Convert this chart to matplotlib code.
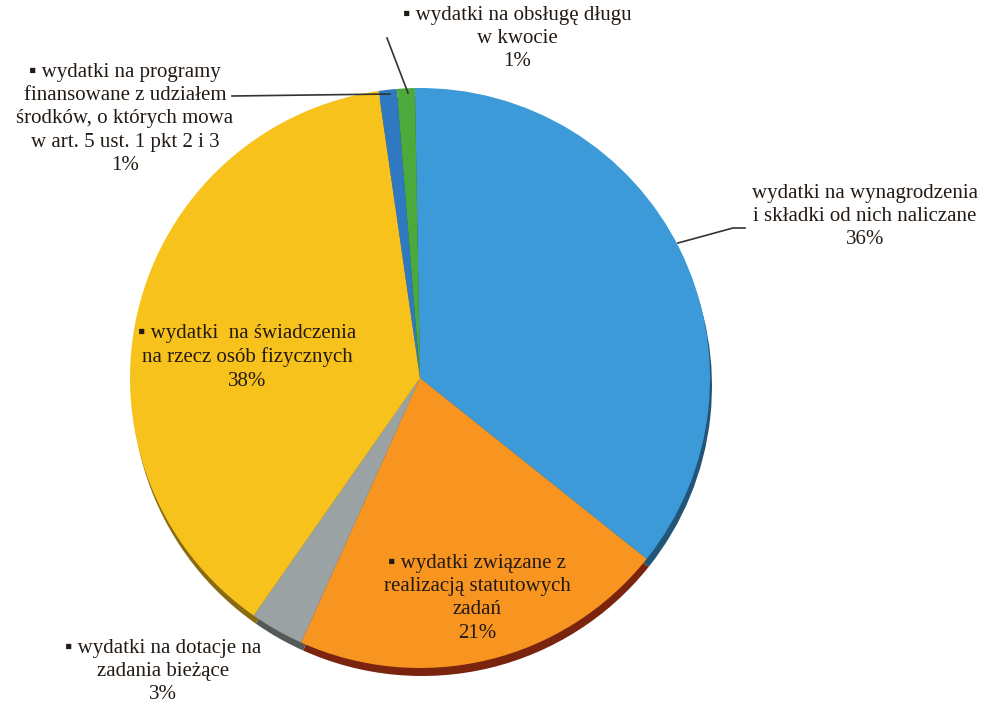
import matplotlib.pyplot as plt
import matplotlib.colors as mcolors

# udzialy wydatkow (%), w kolejnosci zgodnej z ruchem wskazowek zegara od gory
categories = [
    "wydatki na wynagrodzenia\ni składki od nich naliczane",
    "▪ wydatki związane z\nrealizacją statutowych\nzadań",
    "▪ wydatki na dotacje na\nzadania bieżące",
    "▪ wydatki  na świadczenia\nna rzecz osób fizycznych",
    "▪ wydatki na programy\nfinansowane z udziałem\nśrodków, o których mowa\nw art. 5 ust. 1 pkt 2 i 3",
    "▪ wydatki na obsługę długu\nw kwocie",
]
shares = [36, 21, 3, 38, 1, 1]
colors = ["#3d9ad8", "#f89420", "#9aa2a4", "#f8c21c", "#2f78c2", "#4caa3c"]

# polozenie etykiet (piksele, y od gory obrazka)
label_pos = [(865, 184), (477, 554), (163, 639), (247, 324), (125, 63), (517, 6)]

W, H = 984, 710
fig = plt.figure(figsize=(W / 100, H / 100), dpi=100)
ax = fig.add_axes([0, 0, 1, 1])

cx, cy, r = 420, H - 378, 290

# ciemniejszy "bok" wykresu 3D
rim = [tuple(c * 0.55 for c in mcolors.to_rgb(col)) for col in colors]
rim[1] = "#7a2410"
ax.pie(shares, colors=rim, startangle=91, counterclock=False,
       radius=r, center=(cx + 2, cy - 8), wedgeprops=dict(linewidth=0))
ax.pie(shares, colors=colors, startangle=91, counterclock=False,
       radius=r, center=(cx, cy), wedgeprops=dict(linewidth=0))

ax.set_xlim(0, W)
ax.set_ylim(0, H)
ax.set_aspect("equal")
ax.axis("off")

fonts = ["Liberation Serif", "DejaVu Sans"]
for cat, val, (x, y) in zip(categories, shares, label_pos):
    ax.text(x, H - y, f"{cat}\n{val}%", ha="center", va="top", fontsize=15,
            family=fonts, color="#231a14", linespacing=1.3)

# linie odniesienia
ax.plot([387, 408], [H - 38, H - 93], color="#333333", lw=1.2)
ax.plot([232, 390], [H - 96, H - 94], color="#333333", lw=1.2)
ax.plot([678, 733, 745], [H - 243, H - 228, H - 228], color="#333333", lw=1.2)

fig.savefig("out.png", dpi=100)
